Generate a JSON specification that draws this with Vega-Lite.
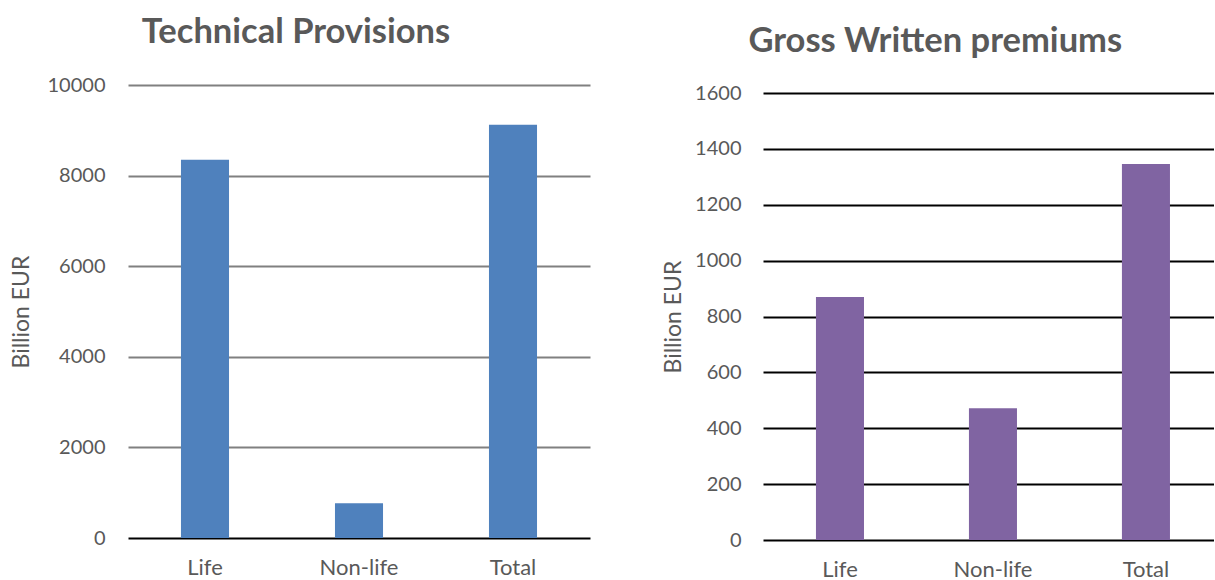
{
  "$schema": "https://vega.github.io/schema/vega-lite/v6.json",
  "padding": {"left": 10, "top": 14, "right": 0, "bottom": 0},
  "background": "white",
  "spacing": 72,
  "config": {
    "view": {"stroke": null},
    "font": "Lato",
    "axis": {"labelFont": "Lato", "titleFont": "Lato", "labelColor": "#595959", "titleColor": "#595959", "labelFontSize": 20, "titleFontSize": 23, "titleFontWeight": "normal"},
    "title": {"font": "Lato", "fontSize": 34.5, "fontWeight": "bold", "color": "#595959", "anchor": "middle", "frame": "bounds"}
  },
  "hconcat": [
    {
      "title": {"text": "Technical Provisions", "offset": 25, "dx": -4},
      "width": 462,
      "height": 453,
      "data": {"values": [
        {"category": "Life", "value": 8350},
        {"category": "Non-life", "value": 765},
        {"category": "Total", "value": 9125}
      ]},
      "mark": {"type": "bar", "color": "#4F81BD"},
      "encoding": {
        "x": {"field": "category", "type": "nominal", "sort": null,
          "scale": {"paddingInner": 0.688, "paddingOuter": 0.344},
          "axis": {"title": null, "labelAngle": 0, "domain": false, "ticks": false, "labelPadding": 19, "labelFontSize": 22}},
        "y": {"field": "value", "type": "quantitative",
          "scale": {"domain": [0, 10000]},
          "axis": {"title": "Billion EUR", "values": [0, 2000, 4000, 6000, 8000, 10000], "format": "d",
            "grid": true, "gridWidth": 2,
            "gridColor": {"condition": {"test": "datum.value === 0", "value": "#000000"}, "value": "#808080"},
            "domain": false, "ticks": false, "labelPadding": 23, "titlePadding": 14}}
      }
    },
    {
      "title": {"text": "Gross Written premiums", "offset": 24, "dx": -3},
      "width": 451,
      "height": 455,
      "data": {"values": [
        {"category": "Life", "value": 870},
        {"category": "Non-life", "value": 472},
        {"category": "Total", "value": 1346}
      ]},
      "mark": {"type": "bar", "color": "#8064A2"},
      "encoding": {
        "x": {"field": "category", "type": "nominal", "sort": null,
          "scale": {"paddingInner": 0.686, "paddingOuter": 0.317, "align": 0.546},
          "axis": {"title": null, "labelAngle": 0, "domain": false, "ticks": false, "labelPadding": 19, "labelFontSize": 22}},
        "y": {"field": "value", "type": "quantitative",
          "scale": {"domain": [0, 1600], "range": [455, 8]},
          "axis": {"title": "Billion EUR", "values": [0, 200, 400, 600, 800, 1000, 1200, 1400, 1600], "format": "d",
            "grid": true, "gridWidth": 2, "gridColor": "#000000",
            "domain": false, "ticks": false, "labelPadding": 22, "titlePadding": 9}}
      }
    }
  ]
}
